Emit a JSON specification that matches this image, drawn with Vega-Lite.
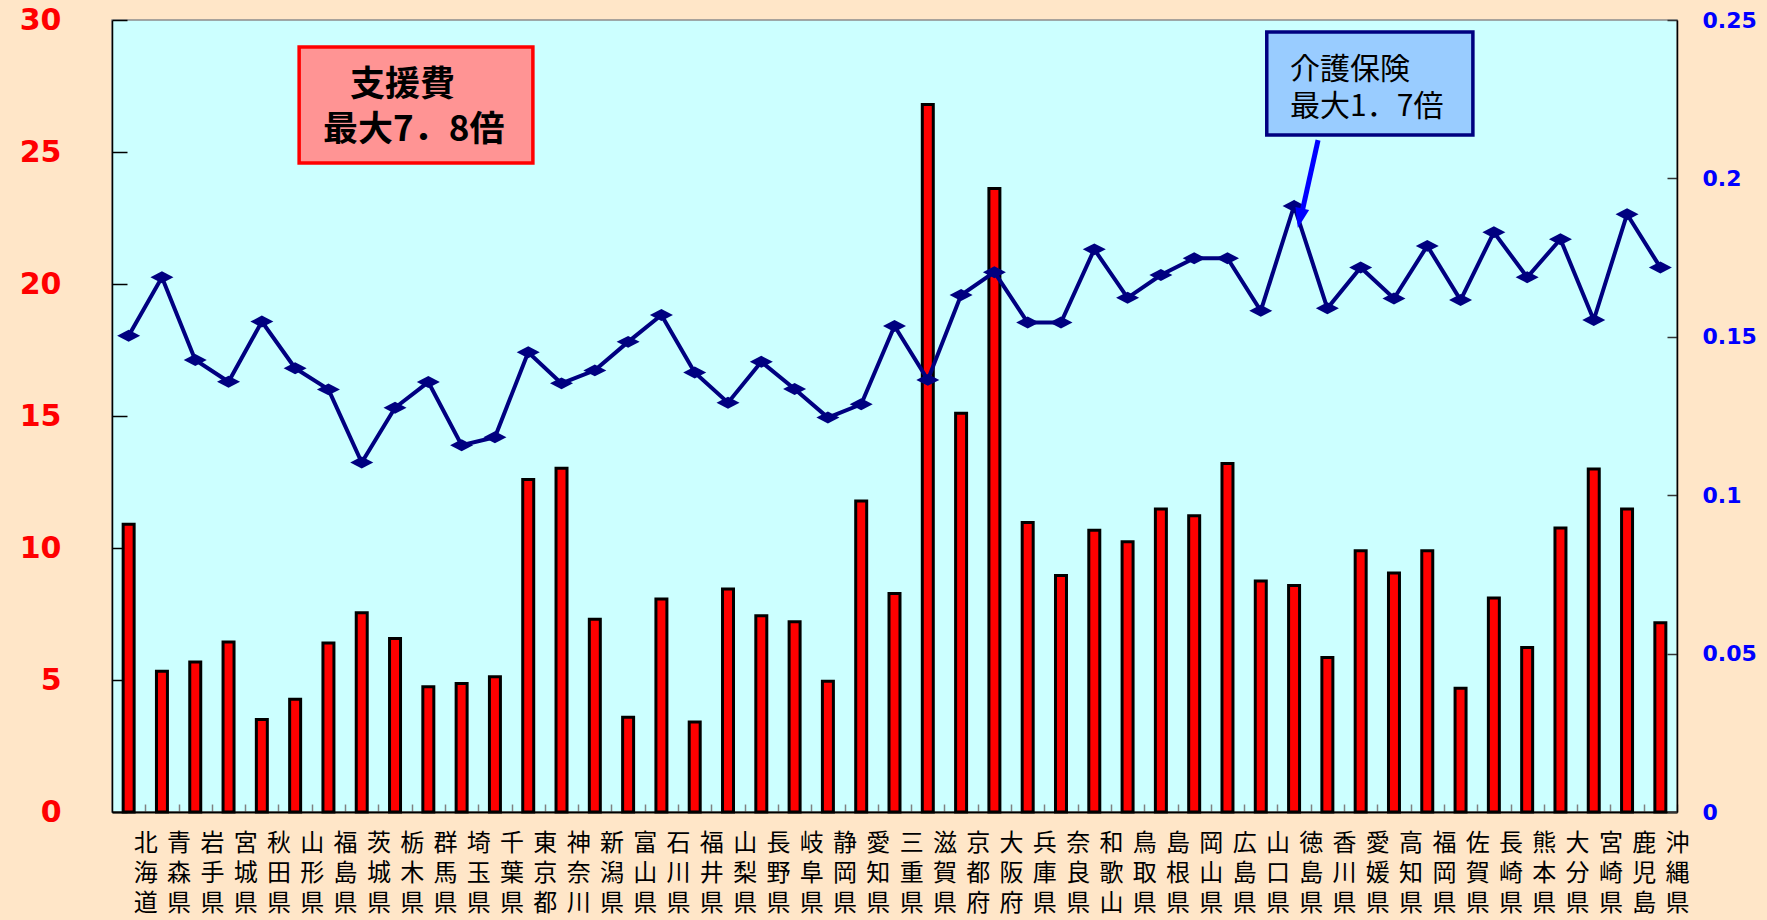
{
  "$schema": "https://vega.github.io/schema/vega-lite/v6.json",
  "width": 1565,
  "height": 792,
  "autosize": {"type": "none"},
  "padding": {"left": 112, "top": 20, "right": 90, "bottom": 108},
  "background": "#FFE6C8",
  "config": {
    "view": {"fill": "#CCFFFF", "stroke": "#8c8c8c", "strokeWidth": 1.5},
    "axis": {"grid": false}
  },
  "datasets": {
    "prefs": [
      {"pref": "北海道", "shien": 10.9, "kaigo": 0.1503},
      {"pref": "青森県", "shien": 5.33, "kaigo": 0.1688},
      {"pref": "岩手県", "shien": 5.68, "kaigo": 0.1427},
      {"pref": "宮城県", "shien": 6.44, "kaigo": 0.1358},
      {"pref": "秋田県", "shien": 3.5, "kaigo": 0.1548},
      {"pref": "山形県", "shien": 4.27, "kaigo": 0.1401},
      {"pref": "福島県", "shien": 6.4, "kaigo": 0.1334},
      {"pref": "茨城県", "shien": 7.55, "kaigo": 0.1103},
      {"pref": "栃木県", "shien": 6.57, "kaigo": 0.1276},
      {"pref": "群馬県", "shien": 4.74, "kaigo": 0.1357},
      {"pref": "埼玉県", "shien": 4.87, "kaigo": 0.1158},
      {"pref": "千葉県", "shien": 5.12, "kaigo": 0.1183},
      {"pref": "東京都", "shien": 12.59, "kaigo": 0.1451},
      {"pref": "神奈川", "shien": 13.02, "kaigo": 0.1353},
      {"pref": "新潟県", "shien": 7.3, "kaigo": 0.1394},
      {"pref": "富山県", "shien": 3.59, "kaigo": 0.1484},
      {"pref": "石川県", "shien": 8.07, "kaigo": 0.1569},
      {"pref": "福井県", "shien": 3.41, "kaigo": 0.1387},
      {"pref": "山梨県", "shien": 8.45, "kaigo": 0.1292},
      {"pref": "長野県", "shien": 7.43, "kaigo": 0.1421},
      {"pref": "岐阜県", "shien": 7.21, "kaigo": 0.1335},
      {"pref": "静岡県", "shien": 4.95, "kaigo": 0.1245},
      {"pref": "愛知県", "shien": 11.78, "kaigo": 0.1287},
      {"pref": "三重県", "shien": 8.28, "kaigo": 0.1534},
      {"pref": "滋賀県", "shien": 26.8, "kaigo": 0.1364},
      {"pref": "京都府", "shien": 15.1, "kaigo": 0.1632},
      {"pref": "大阪府", "shien": 23.62, "kaigo": 0.1704},
      {"pref": "兵庫県", "shien": 10.97, "kaigo": 0.1545},
      {"pref": "奈良県", "shien": 8.96, "kaigo": 0.1545},
      {"pref": "和歌山", "shien": 10.67, "kaigo": 0.1776},
      {"pref": "鳥取県", "shien": 10.24, "kaigo": 0.1623},
      {"pref": "島根県", "shien": 11.48, "kaigo": 0.1695},
      {"pref": "岡山県", "shien": 11.22, "kaigo": 0.1748},
      {"pref": "広島県", "shien": 13.2, "kaigo": 0.1748},
      {"pref": "山口県", "shien": 8.75, "kaigo": 0.1582},
      {"pref": "徳島県", "shien": 8.58, "kaigo": 0.1913},
      {"pref": "香川県", "shien": 5.85, "kaigo": 0.159},
      {"pref": "愛媛県", "shien": 9.9, "kaigo": 0.1719},
      {"pref": "高知県", "shien": 9.05, "kaigo": 0.1621},
      {"pref": "福岡県", "shien": 9.9, "kaigo": 0.1787},
      {"pref": "佐賀県", "shien": 4.69, "kaigo": 0.1616},
      {"pref": "長崎県", "shien": 8.11, "kaigo": 0.183},
      {"pref": "熊本県", "shien": 6.23, "kaigo": 0.1688},
      {"pref": "大分県", "shien": 10.76, "kaigo": 0.1808},
      {"pref": "宮崎県", "shien": 12.99, "kaigo": 0.1553},
      {"pref": "鹿児島", "shien": 11.48, "kaigo": 0.1887},
      {"pref": "沖縄県", "shien": 7.17, "kaigo": 0.1719}
    ],
    "box1": [{"x1": 5.62, "x2": 12.64, "y1": 24.58, "y2": 28.98}],
    "box2": [{"x1": 34.68, "x2": 40.87, "y1": 25.64, "y2": 29.55}],
    "text1": [
      {"x": 7.15, "y": 27.54, "label": "支援費"},
      {"x": 6.34, "y": 25.83, "label": "最大7．8倍"}
    ],
    "text2": [
      {"x": 35.38, "y": 28.12, "label": "介護保険"},
      {"x": 35.38, "y": 26.7, "label": "最大1．7倍"}
    ],
    "arrowLine": [{"x": 36.22, "y": 25.45, "x2": 35.74, "y2": 22.73}],
    "arrowHead": [{"x": 35.68, "y": 22.49}]
  },
  "layer": [
    {
      "data": {"name": "prefs"},
      "mark": {"type": "bar", "color": "#FF0000", "stroke": "#000000", "strokeWidth": 3, "width": {"band": 0.33}},
      "encoding": {
        "x": {
          "field": "pref", "type": "nominal", "sort": null,
          "scale": {"paddingInner": 0, "paddingOuter": 0},
          "axis": {
            "title": null, "labelAngle": 0, "labelExpr": "split(datum.label, '')",
            "labelFont": "Noto Sans CJK JP", "labelFontSize": 24, "labelLineHeight": 30,
            "labelBaseline": "top", "labelColor": "#000000", "labelPadding": 27,
            "labelOverlap": false, "labelBound": false, "labelFlush": false,
            "tickSize": -8, "tickColor": "#808080", "tickOffset": 16.65, "tickWidth": 1.5,
            "domainColor": "#000000", "domainWidth": 2
          }
        },
        "y": {
          "field": "shien", "type": "quantitative",
          "scale": {"domain": [0, 30], "nice": false},
          "axis": {
            "orient": "left", "title": null, "values": [0, 5, 10, 15, 20, 25, 30],
            "labelColor": "#FF0000", "labelFont": "DejaVu Sans", "labelFontWeight": "bold",
            "labelFontSize": 30, "labelPadding": 66, "labelFlush": false,
            "tickSize": -15, "tickColor": "#000000", "tickWidth": 1.5,
            "domainColor": "#000000", "domainWidth": 1.5
          }
        }
      }
    },
    {
      "data": {"name": "prefs"},
      "mark": {"type": "line", "color": "#000080", "strokeWidth": 4},
      "encoding": {
        "x": {"field": "pref", "type": "nominal", "sort": null, "axis": null},
        "y": {
          "field": "kaigo", "type": "quantitative",
          "scale": {"domain": [0, 0.25], "nice": false},
          "axis": {
            "orient": "right", "title": null, "values": [0, 0.05, 0.1, 0.15, 0.2, 0.25],
            "format": "~g", "labelColor": "#0000FF", "labelFont": "DejaVu Sans",
            "labelFontWeight": "bold", "labelFontSize": 22, "labelPadding": 35, "labelFlush": false,
            "tickSize": -10, "tickColor": "#333333", "tickWidth": 1.5,
            "domainColor": "#000000", "domainWidth": 1.5
          }
        }
      }
    },
    {
      "data": {"name": "prefs"},
      "mark": {"type": "point", "filled": true, "opacity": 1, "color": "#000080", "shape": "M-1,0L0,-0.52L1,0L0,0.52Z", "size": 530},
      "encoding": {
        "x": {"field": "pref", "type": "nominal", "sort": null, "axis": null},
        "y": {"field": "kaigo", "type": "quantitative", "scale": {"domain": [0, 0.25], "nice": false}, "axis": null}
      }
    },
    {
      "data": {"name": "box1"},
      "mark": {"type": "rect", "fill": "#FF9494", "stroke": "#FF0000", "strokeWidth": 3.5},
      "encoding": {
        "x": {"field": "x1", "type": "quantitative", "scale": {"domain": [0, 47], "nice": false, "zero": false}, "axis": null},
        "x2": {"field": "x2"},
        "y": {"field": "y1", "type": "quantitative", "scale": {"domain": [0, 30], "nice": false, "zero": false}, "axis": null},
        "y2": {"field": "y2"}
      }
    },
    {
      "data": {"name": "box2"},
      "mark": {"type": "rect", "fill": "#99CCFF", "stroke": "#000080", "strokeWidth": 3.5},
      "encoding": {
        "x": {"field": "x1", "type": "quantitative", "scale": {"domain": [0, 47], "nice": false, "zero": false}, "axis": null},
        "x2": {"field": "x2"},
        "y": {"field": "y1", "type": "quantitative", "scale": {"domain": [0, 30], "nice": false, "zero": false}, "axis": null},
        "y2": {"field": "y2"}
      }
    },
    {
      "data": {"name": "text1"},
      "mark": {"type": "text", "align": "left", "baseline": "middle", "font": "Noto Sans CJK JP", "fontWeight": "bold", "fontSize": 35, "color": "#000000"},
      "encoding": {
        "x": {"field": "x", "type": "quantitative", "scale": {"domain": [0, 47], "nice": false, "zero": false}, "axis": null},
        "y": {"field": "y", "type": "quantitative", "scale": {"domain": [0, 30], "nice": false, "zero": false}, "axis": null},
        "text": {"field": "label"}
      }
    },
    {
      "data": {"name": "text2"},
      "mark": {"type": "text", "align": "left", "baseline": "middle", "font": "Noto Sans CJK JP", "fontWeight": "normal", "fontSize": 30, "color": "#000000"},
      "encoding": {
        "x": {"field": "x", "type": "quantitative", "scale": {"domain": [0, 47], "nice": false, "zero": false}, "axis": null},
        "y": {"field": "y", "type": "quantitative", "scale": {"domain": [0, 30], "nice": false, "zero": false}, "axis": null},
        "text": {"field": "label"}
      }
    },
    {
      "data": {"name": "arrowLine"},
      "mark": {"type": "rule", "color": "#0000FF", "strokeWidth": 5},
      "encoding": {
        "x": {"field": "x", "type": "quantitative", "scale": {"domain": [0, 47], "nice": false, "zero": false}, "axis": null},
        "x2": {"field": "x2"},
        "y": {"field": "y", "type": "quantitative", "scale": {"domain": [0, 30], "nice": false, "zero": false}, "axis": null},
        "y2": {"field": "y2"}
      }
    },
    {
      "data": {"name": "arrowHead"},
      "mark": {"type": "point", "filled": true, "opacity": 1, "color": "#0000FF", "shape": "M-0.7,-1L0.7,-1L0,1Z", "angle": 12.8, "size": 400},
      "encoding": {
        "x": {"field": "x", "type": "quantitative", "scale": {"domain": [0, 47], "nice": false, "zero": false}, "axis": null},
        "y": {"field": "y", "type": "quantitative", "scale": {"domain": [0, 30], "nice": false, "zero": false}, "axis": null}
      }
    }
  ],
  "resolve": {"scale": {"x": "independent", "y": "independent"}}
}
